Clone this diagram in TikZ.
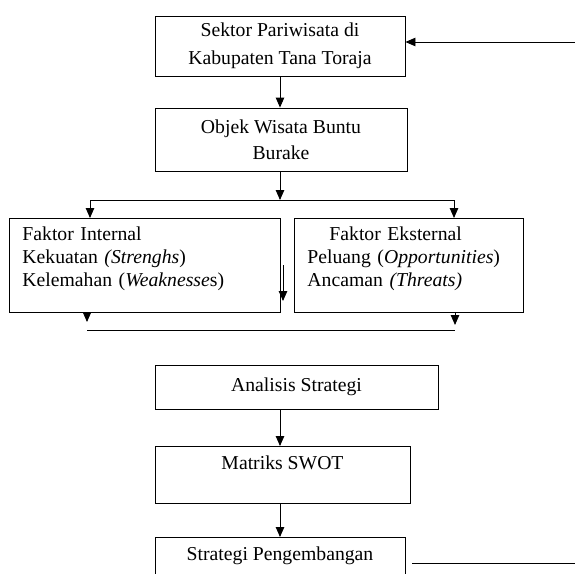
\documentclass[tikz,border=0pt]{standalone}
\usepackage{fontspec}
\setmainfont{Liberation Serif}
\usetikzlibrary{arrows.meta}

\begin{document}
\begin{tikzpicture}[x=1pt, y=-1pt, >={Stealth[inset=0pt, length=10pt, width=8.5pt]},
  box/.style={draw, line width=0.9pt, font=\fontsize{19.7}{23}\selectfont, inner sep=0pt},
  link/.style={->, line width=0.9pt}]
\clip (0,0) rectangle (575,573);

% Objek and sektor boxes
\node[box, minimum width=250pt, minimum height=60pt, align=center, font=\fontsize{19.7}{28}\selectfont] (sektor) at (280,46) {Sektor Pariwisata di\\Kabupaten Tana Toraja};
\node[box, minimum width=252pt, minimum height=63pt, align=center, font=\fontsize{19.7}{26}\selectfont] (objek) at (281,139.5) {Objek Wisata Buntu\\Burake};

% Faktor boxes
\node[box, anchor=north west, text width=245pt, inner xsep=13pt, align=left] (internal) at (9,218) {\rule{0pt}{22pt}Faktor Internal\\Kekuatan \textit{(Strenghs})\\Kelemahan (\textit{Weaknesse}s)\rule[-26pt]{0pt}{26pt}};
\node[box, anchor=north west, text width=203pt, inner xsep=13pt, align=left] (eksternal) at (294,218) {\rule{0pt}{22pt}\hspace*{22pt}Faktor Eksternal\\Peluang (\textit{Opportunities})\\Ancaman \textit{(Threats)}\rule[-26pt]{0pt}{26pt}};

% Strategy boxes
\node[box, minimum width=283pt, minimum height=44pt] (analisis) at (296.5,387) {Analisis Strategi};
\node[box, anchor=north, minimum width=255pt, text height=23.5pt, text depth=33.5pt] (matriks) at (282.5,446) {Matriks SWOT};
\node[box, anchor=north, minimum width=250pt, text height=23.5pt, text depth=30pt] (strategi) at (280,537) {Strategi Pengembangan};

% Free ends
\coordinate (fbin) at (575,42);
\coordinate (fbout) at (575,563);
\coordinate (split) at (280,200);
\coordinate (splitL) at (90,200);
\coordinate (splitR) at (454,200);
\coordinate (mergeL) at (87,330);
\coordinate (mergeR) at (455,330);
\coordinate (stray) at (283,265);

% Feedback
\draw[link] (fbin) -- (fbin -| sektor.east);
\draw[line width=0.9pt] ([xshift=7pt]strategi.east |- fbout) -- (fbout);

% Down the chart
\draw[link] (sektor.south) -- (objek.north -| sektor.south);
\draw[link] (objek.south -| sektor) -- (split);
\draw[link] (split) -| (internal.north -| splitL);
\draw[link] (split) -| (eksternal.north -| splitR);
\draw[link] (stray) -- ++(0,36);
\draw[link] (internal.south -| mergeL) -- ([yshift=8pt]mergeL);
\draw[link] (eksternal.south -| mergeR) -- ([yshift=5pt]mergeR);
\draw[line width=0.9pt] (mergeL) -- (mergeR);
\draw[link] (analisis.south -| sektor) -- (matriks.north -| sektor);
\draw[link] (matriks.south -| sektor) -- (strategi.north -| sektor);

\end{tikzpicture}
\end{document}
